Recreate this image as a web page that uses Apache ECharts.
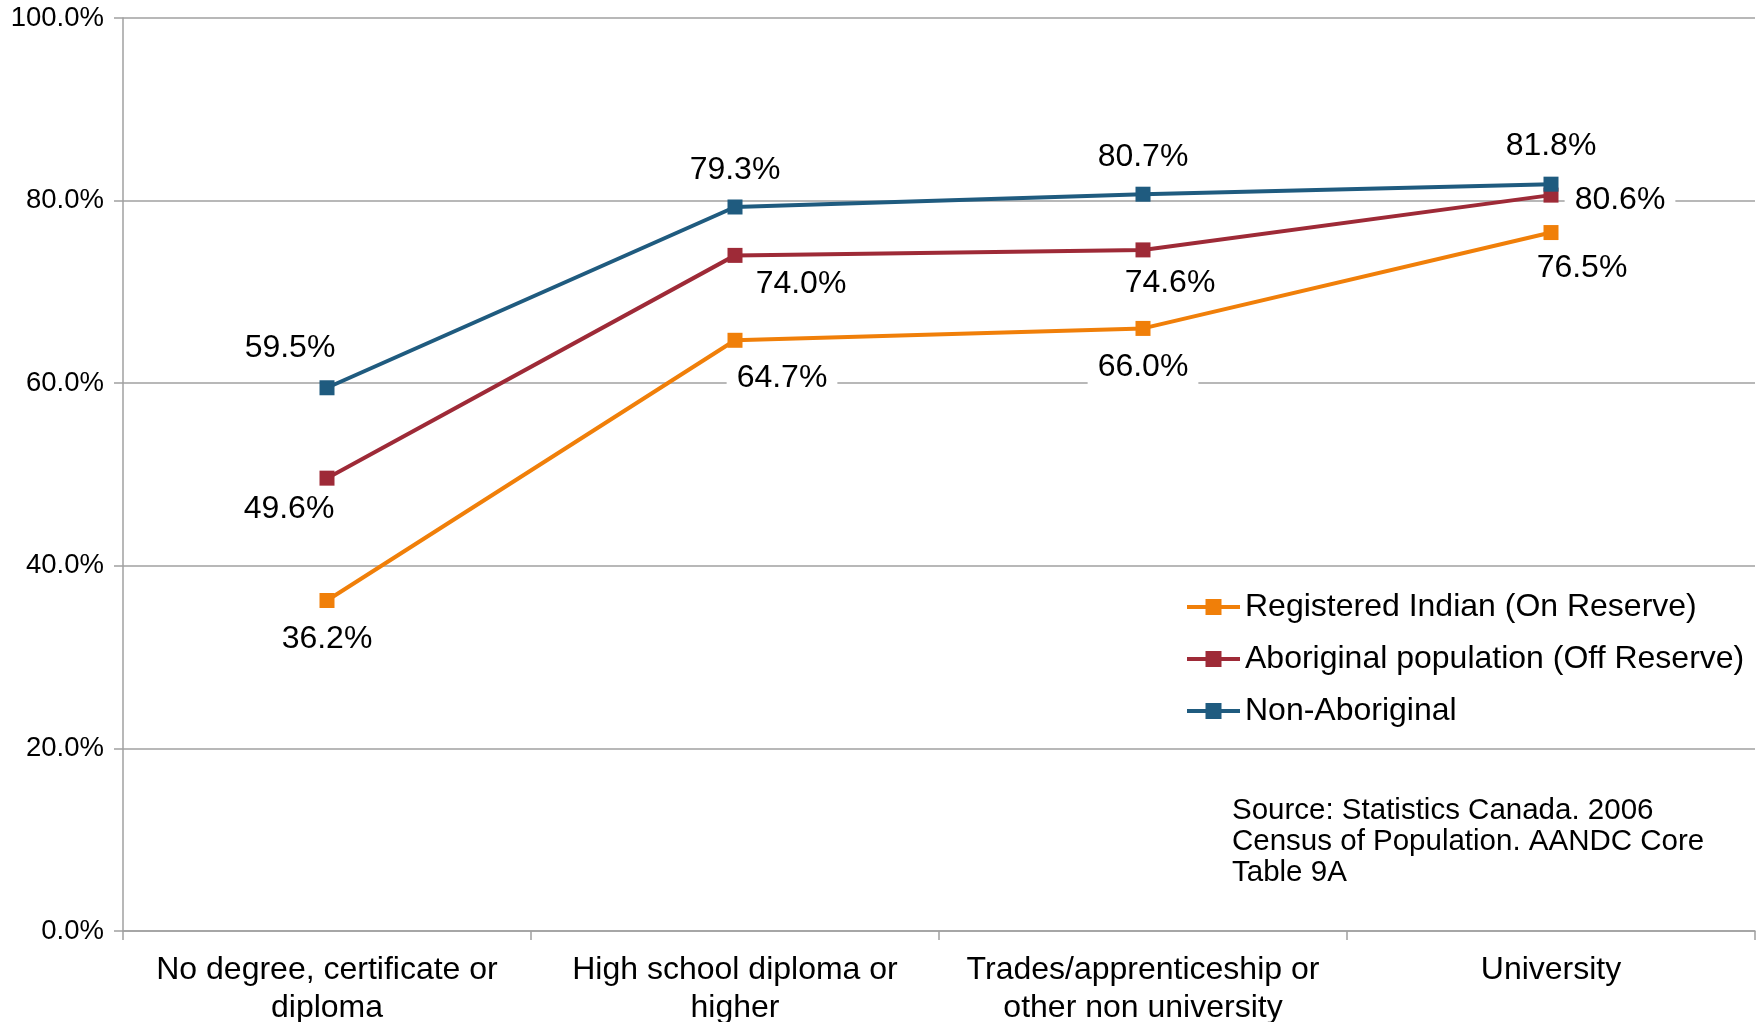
<!DOCTYPE html>
<html>
<head>
<meta charset="utf-8">
<script src="https://cdn.jsdelivr.net/npm/echarts@6/dist/echarts.min.js"></script>
<style>
html,body{margin:0;padding:0;background:#fff;overflow:hidden;}
#chart{width:1759px;height:1022px;}
</style>
</head>
<body>
<div id="chart"></div>
<script>
const categories = [
  'No degree, certificate or\ndiploma',
  'High school diploma or\nhigher',
  'Trades/apprenticeship or\nother non university',
  'University'
];
const seriesNames = [
  'Registered Indian (On Reserve)',
  'Aboriginal population (Off Reserve)',
  'Non-Aboriginal'
];
const registeredIndian = [36.2, 64.7, 66.0, 76.5];
const aboriginalOff = [49.6, 74.0, 74.6, 80.6];
const nonAboriginal = [59.5, 79.3, 80.7, 81.8];
const yTicks = [0, 20, 40, 60, 80, 100];
const sourceText = 'Source: Statistics Canada. 2006\nCensus of Population. AANDC Core\nTable 9A';

const colors = ['#F07F09', '#9E2A37', '#1F5B7F'];
// label offsets (style only)
const offsets = [
  [[0, 39], [47, 38], [0, 39], [31, 36]],
  [[-38, 31], [66, 29], [27, 33], [69, 5]],
  [[-37, -40], [0, -37], [0, -37], [0, -38]]
];
const values = [registeredIndian, aboriginalOff, nonAboriginal];

const FONT = '"Liberation Sans", Arial, sans-serif';

const chart = echarts.init(document.getElementById('chart'));
chart.setOption({
  backgroundColor: '#ffffff',
  animation: false,
  grid: { left: 123, right: 4, top: 18, bottom: 91, containLabel: false, outerBoundsMode: 'none' },
  xAxis: {
    type: 'category',
    data: categories,
    boundaryGap: true,
    axisLine: { lineStyle: { color: '#A0A0A0', width: 1.5 } },
    axisTick: { show: true, length: 9, lineStyle: { color: '#A0A0A0', width: 1.5 } },
    axisLabel: {
      color: '#000', fontFamily: FONT, fontSize: 32, lineHeight: 38, margin: 20, interval: 0
    }
  },
  yAxis: {
    type: 'value',
    min: 0, max: 100, interval: 20,
    axisLine: { show: true, lineStyle: { color: '#A0A0A0', width: 1.5 } },
    axisTick: { show: true, length: 9, lineStyle: { color: '#A0A0A0', width: 1.5 } },
    splitLine: { lineStyle: { color: '#A0A0A0', width: 1.5 } },
    axisLabel: {
      color: '#000', fontFamily: FONT, fontSize: 27.5, margin: 19,
      formatter: v => yTicks.includes(v) ? v.toFixed(1) + '%' : ''
    }
  },
  legend: {
    orient: 'vertical',
    left: 1180, top: 586,
    itemWidth: 53, itemHeight: 20, itemGap: 20,
    data: seriesNames,
    lineStyle: { width: 4 },
    textStyle: { color: '#000', fontFamily: FONT, fontSize: 32, lineHeight: 30 }
  },
  graphic: [{
    type: 'text',
    left: 1232, top: 795,
    style: { text: sourceText, fill: '#000', font: '29.5px ' + FONT, lineHeight: 31 }
  }],
  series: seriesNames.map((name, si) => ({
    name: name,
    type: 'line',
    data: values[si].map((v, i) => ({
      value: v,
      label: { offset: offsets[si][i] }
    })),
    color: colors[si],
    symbol: 'rect',
    symbolSize: 15,
    lineStyle: { width: 4, color: colors[si] },
    itemStyle: { color: colors[si] },
    z: 3 + si,
    label: {
      show: true,
      position: 'inside',
      color: '#000',
      fontFamily: FONT,
      fontSize: 32,
      backgroundColor: '#fff',
      padding: [2, 10],
      formatter: p => p.value.toFixed(1) + '%'
    }
  }))
});
</script>
</body>
</html>
